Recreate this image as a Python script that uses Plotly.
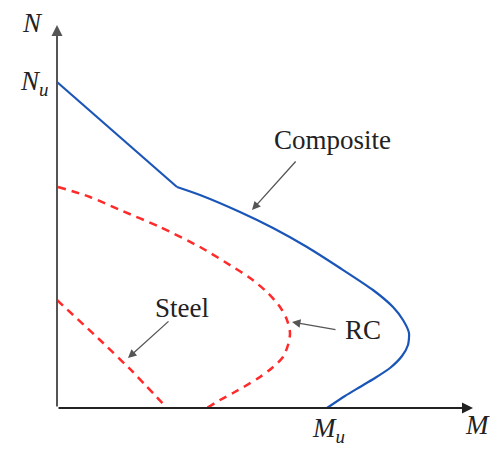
import plotly.graph_objects as go

# Interaction diagram values (M, N) in arbitrary units
composite_M = [0, 120, 143, 183, 216, 250, 283, 316, 336, 346, 352, 351, 345, 333, 318, 303, 288, 270]
composite_N = [326, 221, 213, 196, 180, 161, 140, 118, 101, 88, 75, 63, 52, 40, 30, 21, 12, 0]

rc_M = [1, 33, 63, 103, 143, 168, 193, 211, 223, 230, 233, 231, 226, 215, 203, 190, 176, 163, 150]
rc_N = [221, 211, 198, 181, 161, 146, 130, 115, 101, 88, 75, 63, 51, 40, 31, 23, 15, 8, 0]

steel_M = [0, 43, 76, 110]
steel_N = [108, 68, 36, 0]

fig = go.Figure()

# straight compression-controlled branch up to the kink, then smooth branch
fig.add_trace(go.Scatter(x=composite_M[:2], y=composite_N[:2], mode="lines",
                         line=dict(color="#1a55b8", width=2.2),
                         showlegend=False, hoverinfo="skip"))
fig.add_trace(go.Scatter(x=composite_M[1:], y=composite_N[1:], mode="lines",
                         line=dict(color="#1a55b8", width=2.2, shape="spline", smoothing=0.6),
                         showlegend=False, hoverinfo="skip"))
fig.add_trace(go.Scatter(x=rc_M, y=rc_N, mode="lines",
                         line=dict(color="#ff2a2a", width=2.5, dash="8px,6px", shape="spline", smoothing=0.8),
                         showlegend=False, hoverinfo="skip"))
fig.add_trace(go.Scatter(x=steel_M, y=steel_N, mode="lines",
                         line=dict(color="#ff2a2a", width=2.5, dash="8px,6px", shape="spline", smoothing=0.4),
                         showlegend=False, hoverinfo="skip"))

serif = "'Liberation Serif', 'DejaVu Serif', serif"
ann = []
# axes arrows
ann.append(dict(x=0, y=383, ax=0, ay=0, xref="x", yref="y", axref="x", ayref="y",
                showarrow=True, arrowhead=2, arrowsize=1.1, arrowwidth=2, arrowcolor="#555555", text=""))
ann.append(dict(x=416, y=0, ax=0, ay=0, xref="x", yref="y", axref="x", ayref="y",
                showarrow=True, arrowhead=2, arrowsize=1.1, arrowwidth=2, arrowcolor="#222222", text=""))
# pointer arrows
for (hx, hy, tx, ty) in [(195, 198, 240, 248), (235, 86, 280, 78), (71, 50, 113, 88)]:
    ann.append(dict(x=hx, y=hy, ax=tx, ay=ty, xref="x", yref="y", axref="x", ayref="y",
                    showarrow=True, arrowhead=2, arrowsize=1.3, arrowwidth=1.3, arrowcolor="#555555", text=""))

def label(x, y, t):
    return dict(x=x, y=y, xref="x", yref="y", text=t, showarrow=False,
                font=dict(family=serif, size=27, color="#222222"))

ann += [
    label(-25, 385, "<i>N</i>"),
    label(-23, 325, "<i>N<sub>u</sub></i>"),
    label(271, -22, "<i>M<sub>u</sub></i>"),
    label(420, -17, "<i>M</i>"),
    label(275, 268, "Composite"),
    label(306, 78, "RC"),
    label(125, 100, "Steel"),
]

fig.update_layout(
    width=490, height=450,
    margin=dict(l=0, r=0, t=0, b=0),
    paper_bgcolor="white", plot_bgcolor="white",
    font=dict(family=serif),
    xaxis=dict(range=[-57, 433], visible=False, fixedrange=True),
    yaxis=dict(range=[-42, 408], visible=False, fixedrange=True),
    annotations=ann,
)

fig.write_html("out.html")
